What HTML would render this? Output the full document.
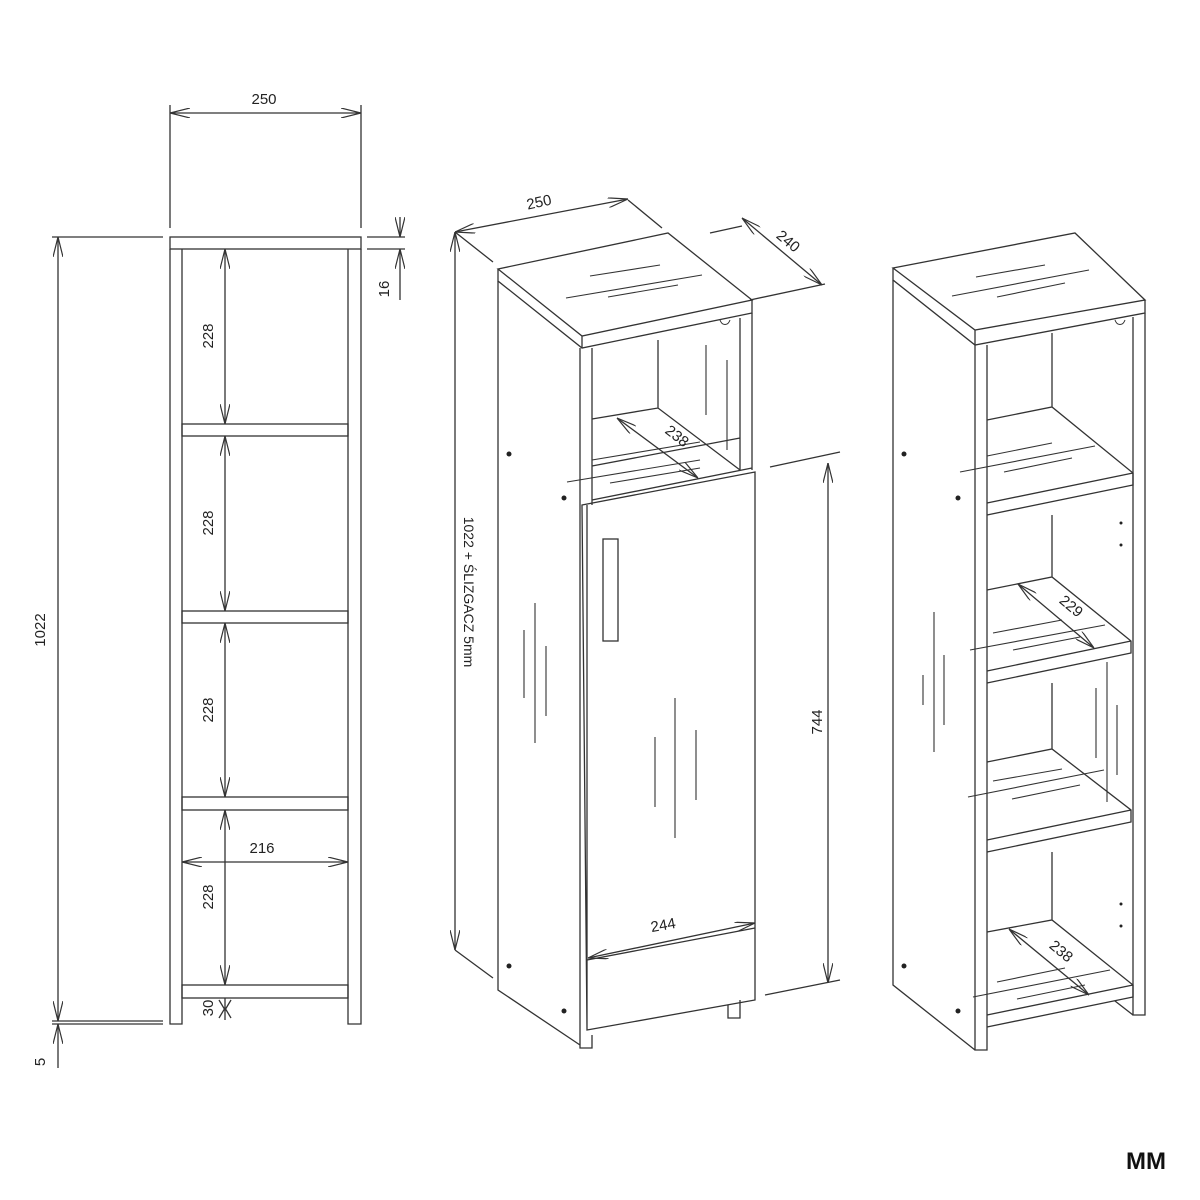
<!DOCTYPE html>
<html><head><meta charset="utf-8"><style>html,body{margin:0;padding:0;background:#fff}svg{display:block}</style></head>
<body>
<svg width="1200" height="1200" viewBox="0 0 1200 1200" xmlns="http://www.w3.org/2000/svg" font-family="Liberation Sans, DejaVu Sans, sans-serif" fill="none" stroke="#333" stroke-width="1.3">
<defs>
<marker id="a" viewBox="0 0 20 10" refX="20" refY="5" markerWidth="20" markerHeight="10" markerUnits="userSpaceOnUse" orient="auto-start-reverse"><path d="M0,0 L20,5 L0,10" fill="none" stroke="#333" stroke-width="1.2"/></marker>
</defs>
<!-- LEFT VIEW -->
<rect x="170" y="237" width="191" height="12"/>
<path d="M170,249 V1024 H182 V249 M182,249 V1024"/>
<path d="M348,249 V1024 H361 V249"/>
<rect x="182" y="424" width="166" height="12"/>
<rect x="182" y="611" width="166" height="12"/>
<rect x="182" y="797" width="166" height="13"/>
<rect x="182" y="985" width="166" height="13"/>
<!-- dims left -->
<path d="M170,105 V228 M361,105 V228"/>
<line x1="170" y1="113" x2="361" y2="113" marker-start="url(#a)" marker-end="url(#a)"/>
<path d="M52,237 H163 M52,1021 H163 M52,1024 H163 M367,237 H405 M367,249 H405"/>
<line x1="58" y1="237" x2="58" y2="1021" marker-start="url(#a)" marker-end="url(#a)"/>
<line x1="58" y1="1068" x2="58" y2="1024" marker-end="url(#a)"/>
<line x1="400" y1="217" x2="400" y2="237" marker-end="url(#a)"/>
<line x1="400" y1="300" x2="400" y2="249" marker-end="url(#a)"/>
<line x1="225" y1="249" x2="225" y2="424" marker-start="url(#a)" marker-end="url(#a)"/>
<line x1="225" y1="436" x2="225" y2="611" marker-start="url(#a)" marker-end="url(#a)"/>
<line x1="225" y1="623" x2="225" y2="797" marker-start="url(#a)" marker-end="url(#a)"/>
<line x1="225" y1="810" x2="225" y2="985" marker-start="url(#a)" marker-end="url(#a)"/>
<line x1="182" y1="862" x2="348" y2="862" marker-start="url(#a)" marker-end="url(#a)"/>
<path d="M225,998 V1020 M219,1000 L225,1010 L231,1000 M219,1018 L225,1008 L231,1018"/>
<g fill="#222" stroke="none" font-size="15">
<text x="264" y="104" text-anchor="middle">250</text>
<text x="262" y="853" text-anchor="middle">216</text>
<text transform="translate(213,336) rotate(-90)" text-anchor="middle">228</text>
<text transform="translate(213,523) rotate(-90)" text-anchor="middle">228</text>
<text transform="translate(213,710) rotate(-90)" text-anchor="middle">228</text>
<text transform="translate(213,897) rotate(-90)" text-anchor="middle">228</text>
<text transform="translate(213,1008) rotate(-90)" text-anchor="middle">30</text>
<text transform="translate(389,289) rotate(-90)" text-anchor="middle">16</text>
<text transform="translate(45,630) rotate(-90)" text-anchor="middle">1022</text>
<text transform="translate(45,1062) rotate(-90)" text-anchor="middle">5</text>
</g>
<!-- MIDDLE CABINET -->
<path d="M498,269 L668,233 L752,300 L582,336 Z M498,269 V281 L582,348 L752,313 V300 M582,336 V348"/>
<path d="M498,281 V990 L580,1045 M580,348 V1048 H592 V1035 M592,348 V505"/>
<path d="M740,318 V470 M752,313 V470 M658,340 V408 M592,419 L658,408 L740,470 M592,466 L740,438"/>
<path d="M720,320 C722,326 728,326 730,320" stroke-width="1"/>
<path d="M582,505 L755,472 V1000 L587,1030 Z M587,505 V1030 M592,500 L752,468"/>
<rect x="603" y="539" width="15" height="102"/>
<path d="M587,960 L755,928"/>
<path d="M728,1005 V1018 H740 V1000"/>
<g stroke-width="1.1">
<path d="M590,276 L660,265 M566,298 L702,275 M608,297 L678,285"/>
<path d="M706,345 V415 M727,360 V450"/>
<path d="M592,460 L700,442 M567,482 L700,460 M610,483 L700,468"/>
<path d="M524,630 V698 M535,603 V743 M546,646 V716"/>
<path d="M655,737 V807 M675,698 V838 M696,730 V800"/>
</g>
<g fill="#222" stroke="none"><circle cx="509" cy="454" r="2.5"/><circle cx="564" cy="498" r="2.5"/><circle cx="509" cy="966" r="2.5"/><circle cx="564" cy="1011" r="2.5"/></g>
<!-- dims middle -->
<path d="M455,232 L493,262 M628,200 L662,228 M710,233 L742,226 M750,300 L825,284 M770,467 L840,452 M765,995 L840,980 M455,950 L493,978"/>
<line x1="455" y1="232" x2="628" y2="199" marker-start="url(#a)" marker-end="url(#a)"/>
<line x1="742" y1="218" x2="822" y2="285" marker-start="url(#a)" marker-end="url(#a)"/>
<line x1="455" y1="232" x2="455" y2="950" marker-start="url(#a)" marker-end="url(#a)"/>
<line x1="828" y1="463" x2="828" y2="983" marker-start="url(#a)" marker-end="url(#a)"/>
<line x1="617" y1="418" x2="698" y2="478" marker-start="url(#a)" marker-end="url(#a)"/>
<line x1="588" y1="958" x2="755" y2="923" marker-start="url(#a)" marker-end="url(#a)"/>
<g fill="#222" stroke="none" font-size="15">
<text transform="translate(540,207) rotate(-12)" text-anchor="middle">250</text>
<text transform="translate(785,245) rotate(40)" text-anchor="middle">240</text>
<text transform="translate(674,440) rotate(38)" text-anchor="middle">238</text>
<text transform="translate(664,930) rotate(-10)" text-anchor="middle">244</text>
<text transform="translate(822,722) rotate(-90)" text-anchor="middle">744</text>
<text transform="translate(464,592) rotate(90)" text-anchor="middle" font-size="14">1022 + ŚLIZGACZ 5mm</text>
</g>
<!-- RIGHT CABINET -->
<path d="M893,268 L1075,233 L1145,300 L975,330 Z M893,268 V280 L975,345 L1145,313 V300 M975,330 V345"/>
<path d="M893,280 V985 L975,1050 M975,345 V1050 H987 V345 M1133,317 V1015 H1145 V313"/>
<path d="M1115,320 C1117,326 1123,326 1125,320" stroke-width="1"/>
<path d="M1052,333 V407 M987,420 L1052,407 L1133,473 V485 L987,515 M987,503 L1133,473"/>
<path d="M1052,515 V577 M987,590 L1052,577 L1131,641 V653 L987,683 M987,671 L1131,641"/>
<path d="M1052,683 V749 M987,762 L1052,749 L1131,810 V822 L987,852 M987,840 L1131,810"/>
<path d="M1052,852 V920 M987,932 L1052,920 L1133,985 V997 L987,1027 M987,1015 L1133,985 M1115,1001 L1133,1015"/>
<g stroke-width="1.1">
<path d="M976,277 L1045,265 M952,296 L1089,270 M997,297 L1065,283"/>
<path d="M987,456 L1052,443 M960,472 L1095,446 M1004,472 L1072,458"/>
<path d="M993,633 L1062,620 M970,650 L1105,625 M1013,650 L1080,637"/>
<path d="M993,781 L1062,769 M968,797 L1104,770 M1012,799 L1080,785"/>
<path d="M997,982 L1065,968 M973,997 L1110,970 M1017,999 L1085,985"/>
<path d="M923,675 V705 M934,612 V752 M944,655 V725"/>
<path d="M1096,688 V758 M1107,662 V802 M1117,705 V775"/>
</g>
<g fill="#222" stroke="none"><circle cx="904" cy="454" r="2.5"/><circle cx="958" cy="498" r="2.5"/><circle cx="904" cy="966" r="2.5"/><circle cx="958" cy="1011" r="2.5"/><circle cx="1121" cy="523" r="1.5"/><circle cx="1121" cy="545" r="1.5"/><circle cx="1121" cy="904" r="1.5"/><circle cx="1121" cy="926" r="1.5"/></g>
<line x1="1018" y1="584" x2="1094" y2="648" marker-start="url(#a)" marker-end="url(#a)"/>
<line x1="1009" y1="929" x2="1089" y2="995" marker-start="url(#a)" marker-end="url(#a)"/>
<g fill="#222" stroke="none" font-size="15">
<text transform="translate(1068,610) rotate(40)" text-anchor="middle">229</text>
<text transform="translate(1058,955) rotate(40)" text-anchor="middle">238</text>
</g>
<text x="1146" y="1169" fill="#111" stroke="none" font-size="24" font-weight="bold" text-anchor="middle">MM</text>
</svg>
</body></html>
